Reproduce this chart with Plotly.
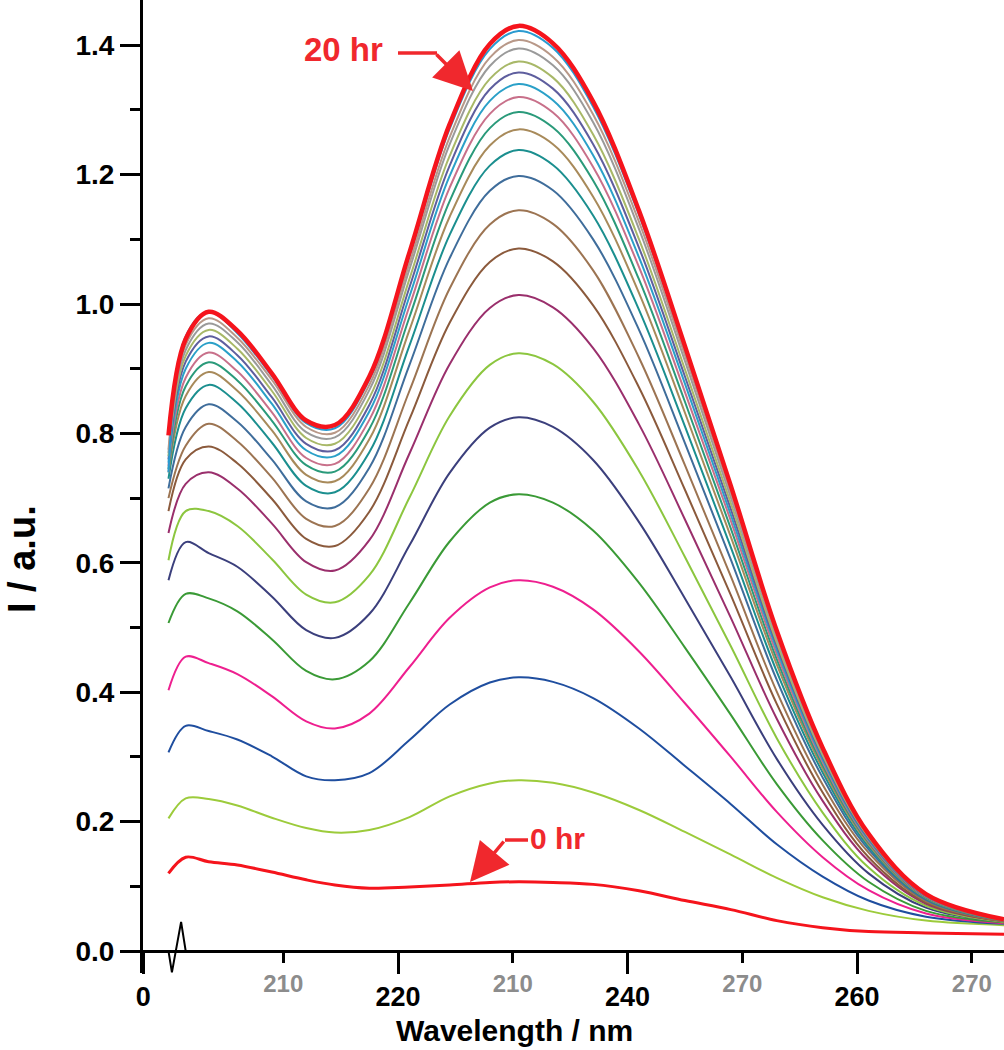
import plotly.graph_objects as go

# ---------------- data ----------------
wavelength = [200, 201.5, 203.5, 206, 209, 212, 214.5, 217.5, 221, 224.5, 228, 230.5,
              233.5, 237, 241, 245, 249, 253, 257, 261, 266, 272.8]

scan_00 = [0.120, 0.145, 0.138, 0.133, 0.122, 0.110, 0.102, 0.097, 0.099, 0.102, 0.106, 0.107,
           0.106, 0.103, 0.093, 0.078, 0.064, 0.047, 0.036, 0.030, 0.028, 0.026]
scan_01 = [0.205, 0.236, 0.235, 0.225, 0.206, 0.190, 0.183, 0.187, 0.207, 0.239, 0.259, 0.264,
           0.260, 0.245, 0.218, 0.184, 0.149, 0.113, 0.083, 0.062, 0.047, 0.040]
scan_02 = [0.307, 0.348, 0.340, 0.327, 0.301, 0.270, 0.264, 0.275, 0.326, 0.381, 0.415, 0.423,
           0.416, 0.391, 0.344, 0.286, 0.227, 0.165, 0.115, 0.078, 0.053, 0.042]
scan_03 = [0.403, 0.455, 0.445, 0.428, 0.394, 0.355, 0.344, 0.367, 0.439, 0.515, 0.562, 0.573,
           0.563, 0.528, 0.463, 0.383, 0.300, 0.215, 0.145, 0.094, 0.058, 0.043]
scan_04 = [0.507, 0.552, 0.545, 0.525, 0.482, 0.433, 0.420, 0.448, 0.538, 0.633, 0.693, 0.706,
           0.693, 0.650, 0.569, 0.469, 0.365, 0.258, 0.171, 0.107, 0.062, 0.044]
scan_05 = [0.573, 0.632, 0.615, 0.594, 0.548, 0.496, 0.484, 0.521, 0.627, 0.739, 0.809, 0.825,
           0.810, 0.759, 0.663, 0.545, 0.423, 0.297, 0.195, 0.120, 0.067, 0.045]
scan_06 = [0.604, 0.680, 0.680, 0.657, 0.606, 0.551, 0.539, 0.581, 0.701, 0.827, 0.906, 0.924,
           0.907, 0.849, 0.742, 0.609, 0.471, 0.329, 0.214, 0.129, 0.070, 0.045]
scan_07 = [0.646, 0.722, 0.740, 0.715, 0.661, 0.601, 0.588, 0.635, 0.769, 0.907, 0.994, 1.014,
           0.995, 0.932, 0.814, 0.667, 0.515, 0.359, 0.232, 0.139, 0.073, 0.046]
scan_08 = [0.680, 0.760, 0.780, 0.754, 0.699, 0.637, 0.626, 0.679, 0.822, 0.971, 1.065, 1.086,
           1.066, 0.998, 0.871, 0.713, 0.550, 0.382, 0.245, 0.145, 0.075, 0.046]
scan_09 = [0.700, 0.781, 0.815, 0.788, 0.732, 0.668, 0.657, 0.715, 0.866, 1.024, 1.123, 1.145,
           1.124, 1.052, 0.917, 0.751, 0.579, 0.401, 0.257, 0.152, 0.077, 0.046]
scan_10 = [0.715, 0.810, 0.845, 0.818, 0.760, 0.695, 0.686, 0.747, 0.906, 1.071, 1.175, 1.198,
           1.176, 1.100, 0.960, 0.785, 0.605, 0.419, 0.268, 0.157, 0.079, 0.047]
scan_11 = [0.730, 0.839, 0.875, 0.847, 0.786, 0.719, 0.709, 0.771, 0.936, 1.107, 1.214, 1.238,
           1.215, 1.137, 0.991, 0.811, 0.624, 0.432, 0.276, 0.161, 0.081, 0.047]
scan_12 = [0.740, 0.858, 0.895, 0.866, 0.805, 0.736, 0.726, 0.791, 0.960, 1.135, 1.245, 1.270,
           1.247, 1.166, 1.017, 0.832, 0.640, 0.443, 0.282, 0.165, 0.082, 0.047]
scan_13 = [0.745, 0.873, 0.910, 0.882, 0.820, 0.751, 0.741, 0.807, 0.980, 1.159, 1.272, 1.297,
           1.273, 1.191, 1.038, 0.849, 0.653, 0.451, 0.287, 0.168, 0.083, 0.048]
scan_14 = [0.750, 0.886, 0.925, 0.896, 0.833, 0.762, 0.753, 0.821, 0.997, 1.180, 1.294, 1.320,
           1.296, 1.212, 1.057, 0.864, 0.665, 0.459, 0.292, 0.170, 0.084, 0.048]
scan_15 = [0.755, 0.900, 0.940, 0.911, 0.846, 0.774, 0.765, 0.834, 1.012, 1.198, 1.314, 1.340,
           1.315, 1.230, 1.072, 0.877, 0.674, 0.466, 0.296, 0.172, 0.085, 0.048]
scan_16 = [0.760, 0.911, 0.950, 0.921, 0.856, 0.784, 0.774, 0.844, 1.026, 1.214, 1.332, 1.358,
           1.333, 1.247, 1.087, 0.888, 0.683, 0.472, 0.300, 0.174, 0.085, 0.048]
scan_17 = [0.765, 0.920, 0.960, 0.931, 0.866, 0.793, 0.784, 0.855, 1.039, 1.229, 1.348, 1.375,
           1.350, 1.262, 1.100, 0.899, 0.692, 0.477, 0.303, 0.176, 0.086, 0.048]
scan_18 = [0.770, 0.929, 0.970, 0.941, 0.875, 0.802, 0.794, 0.867, 1.054, 1.247, 1.368, 1.395,
           1.369, 1.281, 1.116, 0.912, 0.701, 0.484, 0.307, 0.178, 0.087, 0.049]
scan_19 = [0.775, 0.937, 0.978, 0.948, 0.883, 0.810, 0.801, 0.875, 1.063, 1.258, 1.381, 1.408,
           1.382, 1.293, 1.127, 0.921, 0.708, 0.488, 0.310, 0.179, 0.087, 0.049]
scan_20 = [0.740, 0.950, 0.988, 0.955, 0.889, 0.816, 0.808, 0.883, 1.074, 1.271, 1.394, 1.422,
           1.396, 1.305, 1.138, 0.930, 0.715, 0.493, 0.312, 0.181, 0.088, 0.049]
scan_21 = [0.797, 0.946, 0.988, 0.959, 0.893, 0.820, 0.813, 0.888, 1.080, 1.278, 1.402, 1.430,
           1.403, 1.313, 1.144, 0.935, 0.719, 0.495, 0.314, 0.181, 0.088, 0.049]

scans = [scan_00, scan_01, scan_02, scan_03, scan_04, scan_05, scan_06, scan_07, scan_08,
         scan_09, scan_10, scan_11, scan_12, scan_13, scan_14, scan_15, scan_16, scan_17,
         scan_18, scan_19, scan_20, scan_21]

scan_colors = ["#f5141c", "#9ccb3b", "#1f4e9f", "#ee1f8f", "#3a9a36", "#3b3f7c", "#8cc63f",
               "#9a2f6c", "#8b5a3c", "#9c7452", "#3f6d9b", "#1b8f8f", "#a88a5a", "#2a9a7a",
               "#c8708a", "#2aa0c8", "#5e5e9e", "#a8b868", "#9a9a9a", "#b89888", "#2a9ad0",
               "#f5141c"]
scan_widths = [3] + [2] * 20 + [4.5]

baseline_x = [197.8, 200, 200.3, 201.1, 201.5, 272.8]
baseline_y = [0, 0, -0.033, 0.045, 0, 0]

major_x_ticks = [197.8, 220, 240, 260]
major_x_labels = ["0", "220", "240", "260"]
minor_x_ticks = [210, 230, 250, 270]
minor_x_labels = ["210", "210", "270", "270"]
y_ticks = [0.0, 0.2, 0.4, 0.6, 0.8, 1.0, 1.2, 1.4]
y_labels = ["0.0", "0.2", "0.4", "0.6", "0.8", "1.0", "1.2", "1.4"]
y_minor_ticks = [0.1, 0.3, 0.5, 0.7, 0.9, 1.1, 1.3]

x_range = [197.78, 272.8]
y_range = [-0.034, 1.47]

# ---------------- figure ----------------
RED = "#f0282d"
FONT = "Liberation Sans"
fig = go.Figure()

for vals, col, w in zip(scans, scan_colors, scan_widths):
    fig.add_trace(go.Scatter(x=wavelength, y=vals, mode="lines",
                             line=dict(color=col, width=w, shape="spline", smoothing=1.0),
                             hoverinfo="skip"))

fig.add_trace(go.Scatter(x=baseline_x, y=baseline_y, mode="lines", xaxis="x2", yaxis="y",
                         line=dict(color="black", width=2), hoverinfo="skip"))

xpos = -y_range[0] / (y_range[1] - y_range[0])

fig.update_layout(
    width=1004, height=1050,
    margin=dict(l=143, r=0, t=0, b=77),
    paper_bgcolor="white", plot_bgcolor="white",
    showlegend=False,
    xaxis=dict(range=x_range, anchor="free", position=xpos, showline=True, linewidth=3,
               linecolor="black", ticks="outside", tickvals=major_x_ticks,
               ticktext=major_x_labels, ticklen=21, tickwidth=3, tickcolor="black",
               tickfont=dict(family=FONT, size=27, color="black", weight="bold"),
               showgrid=False, zeroline=False),
    xaxis2=dict(range=x_range, overlaying="x", anchor="free", position=xpos, side="bottom",
                showline=False, ticks="outside", tickvals=minor_x_ticks,
                ticktext=minor_x_labels, ticklen=11, tickwidth=3, tickcolor="black",
                tickfont=dict(family=FONT, size=24, color="#8c8c8c", weight="bold"),
                showgrid=False, zeroline=False),
    yaxis=dict(range=y_range, showline=True, linewidth=3, linecolor="black",
               ticks="outside", tickvals=y_ticks, ticktext=y_labels, ticklen=20,
               tickwidth=3, tickcolor="black",
               tickfont=dict(family=FONT, size=28, color="black", weight="bold"),
               minor=dict(tickvals=y_minor_ticks, ticks="outside", ticklen=10,
                          tickwidth=3, tickcolor="black"),
               showgrid=False, zeroline=False),
)

W, H = 861.0, 973.0
def px(x):
    return (x - 143) / W
def py(y):
    return (973 - y) / H

annotations = [
    dict(text="I / a.u.", x=px(22), y=py(559), xref="paper", yref="paper", textangle=-90,
         showarrow=False, xanchor="center", yanchor="middle",
         font=dict(family=FONT, size=38, color="black", weight="bold")),
    dict(text="Wavelength / nm", x=px(514), y=py(1030), xref="paper", yref="paper",
         showarrow=False, xanchor="center", yanchor="middle",
         font=dict(family=FONT, size=30, color="black", weight="bold")),
    dict(text="20 hr", x=px(343), y=py(49), xref="paper", yref="paper", showarrow=False,
         xanchor="center", yanchor="middle",
         font=dict(family=FONT, size=33, color=RED, weight="bold")),
    dict(text="", x=px(473), y=py(91), xref="paper", yref="paper", showarrow=True,
         ax=-38, ay=-38, arrowhead=2, arrowsize=2.2, arrowwidth=3.5, arrowcolor=RED),
    dict(text="0 hr", x=px(557), y=py(838), xref="paper", yref="paper", showarrow=False,
         xanchor="center", yanchor="middle",
         font=dict(family=FONT, size=30, color=RED, weight="bold")),
    dict(text="", x=px(470), y=py(882), xref="paper", yref="paper", showarrow=True,
         ax=35, ay=-42, arrowhead=2, arrowsize=2.2, arrowwidth=3.5, arrowcolor=RED),
]
fig.update_layout(annotations=annotations)

fig.add_shape(type="line", xref="paper", yref="paper", x0=px(398), x1=px(437),
              y0=py(53), y1=py(53), line=dict(color=RED, width=3.5))
fig.add_shape(type="line", xref="paper", yref="paper", x0=px(505), x1=px(528),
              y0=py(840), y1=py(840), line=dict(color=RED, width=3.5))

fig.write_html("out.html", config={"displayModeBar": False},
               post_script="document.body.style.margin='0';document.body.style.overflow='hidden';")
